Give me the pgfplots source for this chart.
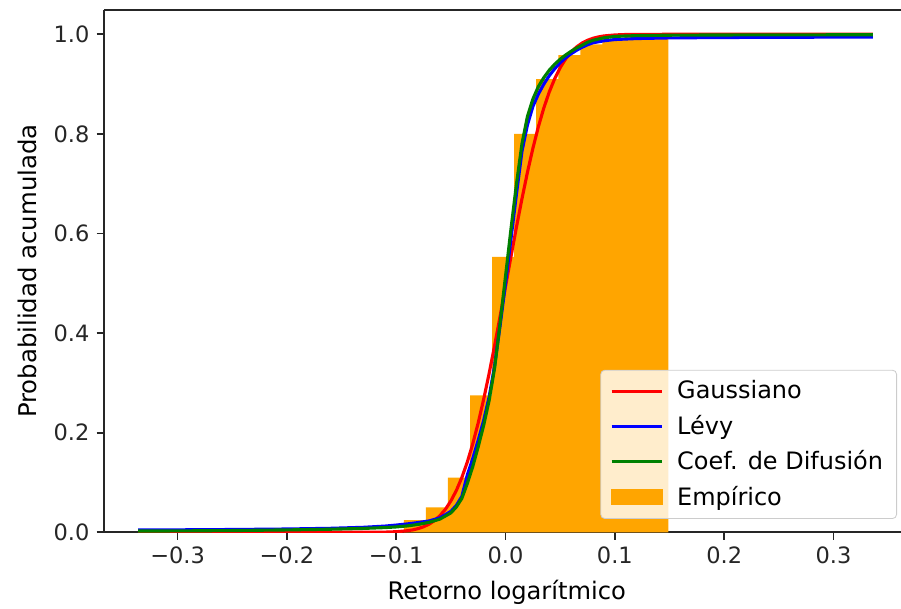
\documentclass[border=0pt]{standalone}
\usepackage{fontspec}
\setmainfont{DejaVu Sans}
\usepackage{pgfplots}
\pgfplotsset{compat=1.18}
\definecolor{mplorange}{HTML}{FFA500}
\definecolor{mplgreen}{HTML}{008000}
\definecolor{spine}{HTML}{262626}
\begin{document}
\begin{tikzpicture}
\begin{axis}[
  scale only axis,
  width=382.56pt, height=250.7pt,
  xmin=-0.3673, xmax=0.3617, ymin=0, ymax=1.0488,
  axis y line*=left,
  xtick pos=left,
  tick align=outside,
  major tick length=3.5pt,
  every tick/.style={spine, line width=0.8pt},
  axis line style={spine, line width=0.8pt},
  xtick={-0.3,-0.2,-0.1,0,0.1,0.2,0.3},
  xticklabels={−0.3,−0.2,−0.1,0.0,0.1,0.2,0.3},
  ytick={0,0.2,0.4,0.6,0.8,1.0},
  yticklabels={0.0,0.2,0.4,0.6,0.8,1.0},
  ticklabel style={font=\fontsize{10.8}{12}\selectfont, text=spine},
  xlabel={Retorno logarítmico},
  ylabel={Probabilidad acumulada},
  every axis x label/.style={at={(axis description cs:0.5054,-0.1143)}, anchor=center, font=\fontsize{11.6}{14}\selectfont},
  every axis y label/.style={at={(axis description cs:-0.0966,0.5)}, anchor=center, rotate=90, font=\fontsize{11.7}{14}\selectfont},
  legend style={at={(axis description cs:0.995,0.0255)}, anchor=south east,
    font=\fontsize{11.5}{13}\selectfont, draw=black!20, rounded corners=2pt,
    fill=white, fill opacity=0.8, text opacity=1, draw opacity=1,
    inner xsep=4.5pt, inner ysep=3pt, row sep=2.3pt, column sep=4.5pt},
  legend cell align=left,
  legend image code/.code={\draw[#1, line width=1.5pt, sharp corners] (0cm,0cm) -- (0.85cm,0cm);},
]
% Empirical cumulative histogram (left bin edges; last row closes the interval)
\addplot[ybar interval, fill=mplorange, draw=none, forget plot] coordinates {
(-0.0930,0.0247) (-0.0728,0.0502) (-0.0527,0.110) (-0.0325,0.275)
(-0.0123,0.553) (0.0079,0.800) (0.0280,0.910) (0.0482,0.958)
(0.0684,0.980) (0.0885,0.990) (0.1087,0.995) (0.1289,1.000) (0.1490,1.000)
};
% Gaussiano
\addplot[red, line width=1.5pt] coordinates {
(-0.336,0.0) (-0.20,0.0) (-0.15,0.0) (-0.12,0.0001) (-0.11,0.0004) (-0.10,0.0012)
(-0.09,0.0031) (-0.085,0.0048) (-0.08,0.0074) (-0.075,0.0111) (-0.07,0.0163)
(-0.065,0.0236) (-0.06,0.0334) (-0.055,0.0463) (-0.05,0.0630) (-0.045,0.0840)
(-0.04,0.1099) (-0.035,0.1410) (-0.03,0.1777) (-0.025,0.2198) (-0.02,0.2673)
(-0.015,0.3193) (-0.01,0.3752) (-0.005,0.4337) (0.0,0.4939) (0.005,0.5542)
(0.01,0.6133) (0.015,0.6697) (0.02,0.7227) (0.025,0.7710) (0.03,0.8143)
(0.035,0.8521) (0.04,0.8843) (0.045,0.9112) (0.05,0.9332) (0.055,0.9507)
(0.06,0.9643) (0.065,0.9747) (0.07,0.9824) (0.075,0.9880) (0.08,0.9920)
(0.085,0.9948) (0.09,0.9967) (0.10,0.9987) (0.11,0.9996) (0.12,0.9999)
(0.15,1.0) (0.336,1.0)
};
\addlegendentry{Gaussiano}
% Levy
\addplot[blue, line width=1.5pt] coordinates {
(-0.336,0.0045) (-0.30,0.0049) (-0.25,0.0056) (-0.20,0.0066) (-0.16,0.0080)
(-0.13,0.0100) (-0.11,0.0125) (-0.10,0.0145) (-0.09,0.0168) (-0.08,0.0195)
(-0.07,0.0228) (-0.06,0.0290) (-0.05,0.0420) (-0.045,0.0540) (-0.04,0.0720)
(-0.035,0.115) (-0.03,0.148) (-0.025,0.185) (-0.02,0.225) (-0.015,0.272)
(-0.01,0.335) (-0.005,0.415) (0.0,0.500) (0.005,0.590) (0.01,0.680)
(0.015,0.765) (0.02,0.818) (0.025,0.855) (0.03,0.880) (0.035,0.900)
(0.04,0.917) (0.045,0.931) (0.05,0.943) (0.055,0.953) (0.06,0.961)
(0.065,0.968) (0.07,0.974) (0.075,0.979) (0.08,0.983) (0.09,0.987)
(0.10,0.9895) (0.12,0.9915) (0.15,0.9928) (0.20,0.9936) (0.336,0.9946)
};
\addlegendentry{Lévy}
% Coef. de Difusion
\addplot[mplgreen, line width=1.5pt] coordinates {
(-0.336,0.0025) (-0.30,0.0028) (-0.25,0.0035) (-0.20,0.0048) (-0.16,0.0062)
(-0.13,0.0078) (-0.11,0.0095) (-0.10,0.0108) (-0.09,0.0128) (-0.08,0.0158)
(-0.07,0.0200) (-0.06,0.0265) (-0.05,0.0390) (-0.045,0.0510) (-0.04,0.0680)
(-0.035,0.098) (-0.03,0.132) (-0.025,0.172) (-0.02,0.215) (-0.015,0.265)
(-0.01,0.330) (-0.005,0.420) (0.0,0.515) (0.005,0.610) (0.01,0.700)
(0.015,0.780) (0.02,0.835) (0.025,0.870) (0.03,0.895) (0.035,0.913)
(0.04,0.928) (0.045,0.940) (0.05,0.950) (0.055,0.9585) (0.06,0.9660)
(0.065,0.9725) (0.07,0.978) (0.075,0.984) (0.08,0.988) (0.09,0.993)
(0.10,0.9958) (0.12,0.9974) (0.15,0.9982) (0.20,0.9987) (0.336,0.9991)
};
\addlegendentry{Coef. de Difusión}
\addlegendimage{legend image code/.code={\fill[mplorange, fill opacity=1, sharp corners] (0cm,-0.13cm) rectangle (0.85cm,0.13cm);}}
\addlegendentry{Empírico}
\end{axis}
\pgfresetboundingbox
\path[use as bounding box] ([xshift=-49.92pt,yshift=-36.8pt]current axis.south west) rectangle ([yshift=4.8pt]current axis.north east);
\end{tikzpicture}
\end{document}
